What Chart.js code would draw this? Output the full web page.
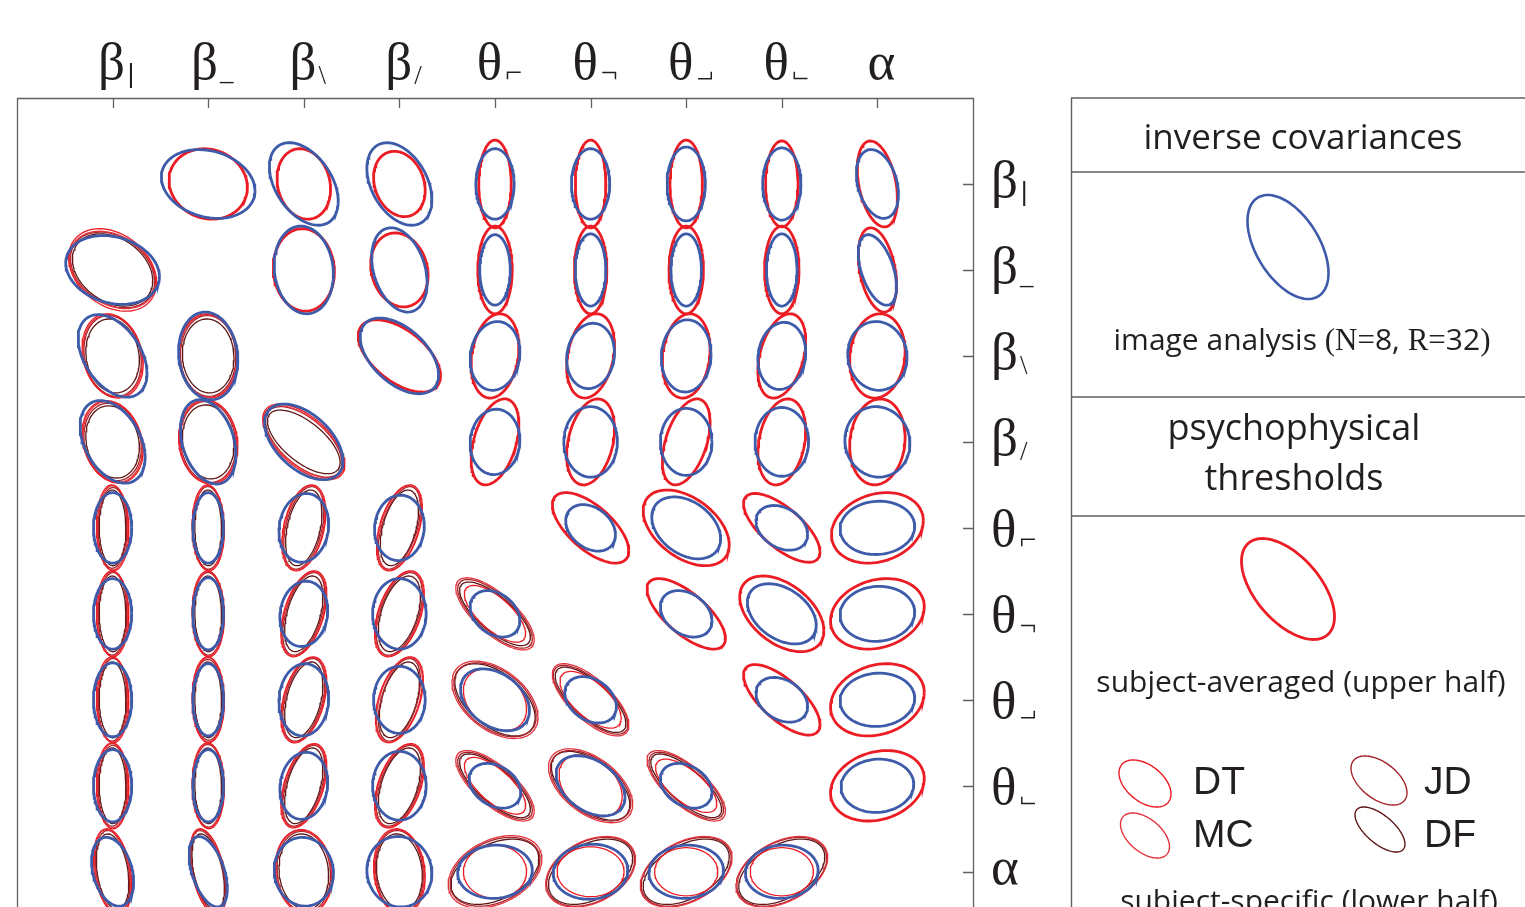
<!DOCTYPE html>
<html>
<head>
<meta charset="utf-8">
<script src="https://cdn.jsdelivr.net/npm/chart.js@4.4.1/dist/chart.umd.min.js"></script>
<style>
  html, body { margin: 0; padding: 0; background: #ffffff; }
  #wrap { width: 1525px; height: 907px; }
</style>
</head>
<body>
<div id="wrap"><canvas id="matrix" width="1525" height="907"></canvas></div>
<script>
// Parameters of the nine image features (row/column order of the matrix).
const varSymbols    = ['β', 'β', 'β', 'β', 'θ', 'θ', 'θ', 'θ', 'α'];
const varSubscripts = ['|', '_', '\\', '/', '┌', '┐', '┘', '└', ''];

// Ellipses, one per variable pair (i < j), upper triangle in row-major order.
// Each entry: [half-width (columns), half-height (rows), correlation/tilt].
const imageAnalysis = [
  [0.49,0.40,0.20],[0.36,0.48,0.42],[0.34,0.48,0.38],[0.20,0.41,0.00],[0.20,0.41,0.00],[0.20,0.43,0.00],[0.20,0.42,0.00],[0.22,0.40,0.30],
  [0.31,0.51,0.10],[0.29,0.49,0.30],[0.16,0.41,0.00],[0.16,0.42,0.00],[0.16,0.42,0.00],[0.16,0.42,0.00],[0.20,0.41,0.48],
  [0.41,0.44,0.50],[0.26,0.40,-0.10],[0.25,0.38,-0.10],[0.26,0.42,-0.05],[0.25,0.39,-0.10],[0.31,0.40,0.05],
  [0.26,0.38,-0.05],[0.28,0.41,0.00],[0.27,0.39,0.00],[0.28,0.40,0.00],[0.34,0.41,0.05],
  [0.26,0.27,0.30],[0.36,0.36,0.35],[0.27,0.26,0.30],[0.39,0.31,-0.05],
  [0.27,0.27,0.30],[0.36,0.35,0.38],[0.39,0.32,-0.05],
  [0.27,0.26,0.30],[0.39,0.31,-0.05],
  [0.38,0.31,-0.05]
];
const subjectAveraged = [
  [0.41,0.41,0.10],[0.28,0.41,0.15],[0.27,0.38,0.20],[0.17,0.51,0.00],[0.16,0.51,0.00],[0.17,0.51,0.00],[0.17,0.50,0.00],[0.21,0.50,0.35],
  [0.32,0.48,0.05],[0.30,0.43,0.15],[0.18,0.51,0.00],[0.17,0.51,0.00],[0.18,0.51,0.00],[0.18,0.51,0.00],[0.20,0.49,0.35],
  [0.43,0.42,0.55],[0.25,0.49,-0.20],[0.25,0.49,-0.25],[0.25,0.49,-0.15],[0.25,0.49,-0.35],[0.29,0.49,-0.10],
  [0.25,0.50,-0.40],[0.25,0.50,-0.30],[0.25,0.50,-0.45],[0.25,0.50,-0.25],[0.29,0.50,-0.10],
  [0.40,0.41,0.65],[0.45,0.44,0.45],[0.40,0.40,0.70],[0.48,0.41,-0.20],
  [0.41,0.41,0.70],[0.44,0.44,0.45],[0.49,0.41,-0.20],
  [0.40,0.41,0.70],[0.49,0.42,-0.20],
  [0.49,0.41,-0.20]
];
const subjectDT = [
  [0.46,0.48,0.30],[0.32,0.49,0.18],[0.32,0.48,0.20],[0.17,0.50,0.05],[0.17,0.50,0.03],[0.17,0.50,0.04],[0.17,0.50,0.03],[0.20,0.50,0.30],
  [0.31,0.49,0.05],[0.31,0.49,0.10],[0.17,0.50,0.05],[0.17,0.50,0.04],[0.17,0.50,0.03],[0.17,0.50,0.04],[0.19,0.50,0.45],
  [0.43,0.44,0.60],[0.23,0.50,-0.35],[0.24,0.50,-0.45],[0.24,0.50,-0.40],[0.24,0.49,-0.45],[0.30,0.49,0.10],
  [0.24,0.50,-0.45],[0.26,0.50,-0.45],[0.25,0.50,-0.45],[0.26,0.49,-0.45],[0.27,0.50,0.12],
  [0.32,0.33,0.70],[0.33,0.36,0.30],[0.32,0.33,0.70],[0.33,0.31,0.00],
  [0.32,0.33,0.65],[0.33,0.36,0.35],[0.35,0.29,0.00],
  [0.32,0.31,0.68],[0.33,0.28,0.00],
  [0.33,0.28,0.00]
];
const subjectMC = [
  [0.45,0.45,0.30],[0.31,0.48,0.15],[0.31,0.47,0.18],[0.16,0.49,0.00],[0.16,0.49,0.00],[0.16,0.49,0.00],[0.16,0.49,0.01],[0.19,0.49,0.35],
  [0.30,0.48,0.05],[0.30,0.48,0.08],[0.16,0.49,0.00],[0.16,0.49,0.00],[0.16,0.49,0.01],[0.16,0.49,0.00],[0.19,0.49,0.42],
  [0.42,0.42,0.62],[0.22,0.49,-0.35],[0.23,0.49,-0.45],[0.23,0.49,-0.40],[0.23,0.48,-0.45],[0.29,0.48,0.12],
  [0.23,0.49,-0.45],[0.25,0.49,-0.45],[0.24,0.49,-0.45],[0.25,0.48,-0.45],[0.26,0.49,0.10],
  [0.41,0.42,0.72],[0.45,0.45,0.45],[0.41,0.41,0.72],[0.49,0.42,-0.35],
  [0.40,0.42,0.70],[0.44,0.43,0.50],[0.47,0.41,-0.35],
  [0.41,0.41,0.72],[0.48,0.41,-0.40],
  [0.48,0.41,-0.40]
];
const subjectJD = [
  [0.44,0.44,0.30],[0.30,0.47,0.15],[0.30,0.45,0.15],[0.15,0.47,-0.03],[0.15,0.48,-0.03],[0.15,0.48,-0.04],[0.15,0.47,-0.03],[0.18,0.48,0.28],
  [0.29,0.47,0.03],[0.29,0.47,0.10],[0.16,0.48,0.03],[0.16,0.48,0.02],[0.16,0.47,0.03],[0.16,0.48,0.02],[0.18,0.48,0.48],
  [0.40,0.41,0.60],[0.21,0.48,-0.40],[0.22,0.48,-0.48],[0.22,0.48,-0.42],[0.22,0.47,-0.48],[0.28,0.47,0.08],
  [0.22,0.48,-0.50],[0.24,0.48,-0.48],[0.22,0.48,-0.48],[0.24,0.47,-0.48],[0.25,0.48,0.10],
  [0.39,0.40,0.73],[0.43,0.43,0.45],[0.39,0.39,0.73],[0.47,0.40,-0.35],
  [0.39,0.40,0.72],[0.42,0.41,0.50],[0.46,0.40,-0.35],
  [0.39,0.39,0.72],[0.47,0.40,-0.40],
  [0.47,0.40,-0.40]
];
const subjectDF = [
  [0.42,0.42,0.30],[0.28,0.43,0.12],[0.28,0.42,0.15],[0.14,0.44,0.02],[0.14,0.44,0.02],[0.14,0.44,0.02],[0.14,0.44,0.02],[0.17,0.44,0.30],
  [0.27,0.43,0.05],[0.27,0.43,0.10],[0.14,0.44,0.02],[0.14,0.44,0.03],[0.14,0.44,0.02],[0.14,0.44,0.03],[0.17,0.44,0.45],
  [0.38,0.37,0.65],[0.19,0.44,-0.38],[0.20,0.44,-0.45],[0.20,0.44,-0.40],[0.20,0.44,-0.45],[0.26,0.44,0.10],
  [0.20,0.44,-0.45],[0.22,0.44,-0.45],[0.21,0.44,-0.45],[0.22,0.44,-0.45],[0.24,0.44,0.12],
  [0.37,0.37,0.74],[0.42,0.42,0.50],[0.37,0.37,0.74],[0.46,0.38,-0.40],
  [0.37,0.38,0.73],[0.41,0.40,0.55],[0.44,0.38,-0.40],
  [0.37,0.37,0.75],[0.45,0.38,-0.45],
  [0.45,0.38,-0.45]
];

const subjects = [
  { name: 'DT', values: subjectDT, color: '#ec1c24' },
  { name: 'MC', values: subjectMC, color: '#e2333b' },
  { name: 'JD', values: subjectJD, color: '#a6222b' },
  { name: 'DF', values: subjectDF, color: '#5e1616' }
];
const BLUE = '#3d5ba9';
const RED = '#ec1c24';
const INK = '#231f20';
const RULE = '#5f6062';

// Outline of an ellipse with bounding half-extents sx, sy and correlation r.
function ellipseOutline(cx, cy, e, steps = 90) {
  const [sx, sy, r] = e;
  const k = Math.sqrt(1 - r * r);
  const pts = [];
  for (let s = 0; s <= steps; s++) {
    const t = (s / steps) * Math.PI * 2;
    pts.push({ x: cx + sx * Math.cos(t), y: cy + sy * (r * Math.cos(t) + k * Math.sin(t)) });
  }
  return pts;
}

function ellipseDataset(cx, cy, e, color, width, order) {
  return {
    data: ellipseOutline(cx, cy, e),
    showLine: true,
    borderColor: color,
    borderWidth: width,
    pointRadius: 0,
    tension: 0,
    fill: false,
    order: order
  };
}

// Build datasets: upper triangle = image analysis + subject average,
// lower triangle = image analysis + each subject.
const datasets = [];
let p = 0;
for (let i = 1; i <= varSymbols.length; i++) {
  for (let j = i + 1; j <= varSymbols.length; j++) {
    // upper cell: row i, column j
    datasets.push(ellipseDataset(j, i, subjectAveraged[p], RED, 2.8, 2));
    datasets.push(ellipseDataset(j, i, imageAnalysis[p], BLUE, 2.8, 0));
    // lower cell: row j, column i
    subjects.forEach(s => datasets.push(ellipseDataset(i, j, s.values[p], s.color, 1.3, 1)));
    datasets.push(ellipseDataset(i, j, imageAnalysis[p], BLUE, 2.8, 0));
    p++;
  }
}

function ellipsePath(ctx, cx, cy, sx, sy, r) {
  const pts = ellipseOutline(cx, cy, [sx, sy, r], 120);
  ctx.beginPath();
  pts.forEach((q, n) => n ? ctx.lineTo(q.x, q.y) : ctx.moveTo(q.x, q.y));
  ctx.closePath();
}

const SERIF = '"Liberation Serif", "Times New Roman", serif';
const SANS = '"Open Sans", "Noto Sans", sans-serif';

// Corner subscripts are set with the (reversed) not-sign glyph, turned as needed.
const cornerGlyphs = { '┌': ['⌐', 0], '┐': ['¬', 0], '┘': ['⌐', Math.PI], '└': ['¬', Math.PI] };

function drawVarLabel(ctx, k, x, y, mode) {
  const main = varSymbols[k];
  const sub = varSubscripts[k];
  const mainFont = `53px ${SERIF}`;
  ctx.font = mainFont;
  const m = ctx.measureText(main);
  const corner = cornerGlyphs[sub];
  const subFont = corner ? `30px ${SERIF}` : (sub === '|' ? '25px "DejaVu Sans"' : `27px ${SERIF}`);
  const glyph = corner ? corner[0] : sub;
  ctx.font = subFont;
  const sm = sub ? ctx.measureText(glyph) : null;
  const subW = sm ? (corner ? sm.actualBoundingBoxLeft + sm.actualBoundingBoxRight : sm.width) : 0;
  const gap = sub ? (corner ? 4 : 2) : 0;
  let left, base;
  if (mode === 'top') {
    left = x + 4 - (m.width + gap + subW) / 2;
    base = y;
  } else {
    left = x;
    base = y + (m.actualBoundingBoxAscent - m.actualBoundingBoxDescent) / 2;
  }
  ctx.fillStyle = INK;
  ctx.textAlign = 'left';
  ctx.textBaseline = 'alphabetic';
  ctx.font = mainFont;
  ctx.fillText(main, left, base);
  if (!sub) return;
  ctx.font = subFont;
  const sx = left + m.width + gap;
  if (corner) {
    const bl = -sm.actualBoundingBoxLeft, br = sm.actualBoundingBoxRight;
    const bt = -sm.actualBoundingBoxAscent, bb = sm.actualBoundingBoxDescent;
    const w = br - bl, h = bb - bt;
    const cx = sx + w / 2, cy = base + 1 - h / 2;
    ctx.save();
    ctx.translate(cx, cy);
    ctx.rotate(corner[1]);
    ctx.fillText(glyph, -(bl + br) / 2, -(bt + bb) / 2);
    ctx.restore();
  } else {
    let sb = base + 5;
    if (sub === '_') sb = base + 1;
    if (sub === '|') sb = base + 3;
    ctx.fillText(glyph, sx, sb);
  }
}

const matrixFrame = {
  id: 'matrixFrame',
  afterDatasetsDraw(chart) {
    const { ctx, chartArea: a, scales: { x, y } } = chart;
    ctx.save();
    ctx.strokeStyle = RULE;
    ctx.lineWidth = 1.3;
    ctx.beginPath();
    ctx.moveTo(a.left + 0.5, a.bottom + 5);
    ctx.lineTo(a.left + 0.5, a.top + 0.5);
    ctx.lineTo(a.right + 0.5, a.top + 0.5);
    ctx.lineTo(a.right + 0.5, a.bottom + 5);
    varSymbols.forEach((_, k) => {
      const px = Math.round(x.getPixelForValue(k + 1)) + 0.5;
      ctx.moveTo(px, a.top);
      ctx.lineTo(px, a.top + 10);
      const py = Math.round(y.getPixelForValue(k + 1)) + 0.5;
      ctx.moveTo(a.right - 10, py);
      ctx.lineTo(a.right, py);
    });
    ctx.stroke();
    varSymbols.forEach((_, k) => {
      drawVarLabel(ctx, k, x.getPixelForValue(k + 1), 79, 'top');
      drawVarLabel(ctx, k, a.right + 18, y.getPixelForValue(k + 1), 'right');
    });
    ctx.restore();
  }
};

function centeredRuns(ctx, runs, cx, base) {
  let total = 0;
  runs.forEach(r => { ctx.font = r[1]; total += ctx.measureText(r[0]).width; });
  let xx = cx - total / 2;
  ctx.textAlign = 'left';
  runs.forEach(r => { ctx.font = r[1]; ctx.fillText(r[0], xx, base); xx += ctx.measureText(r[0]).width; });
}

const keyPanel = {
  id: 'keyPanel',
  afterDraw(chart) {
    const ctx = chart.ctx;
    const L = 1071.5, R = 1525;
    ctx.save();
    ctx.strokeStyle = RULE;
    ctx.lineWidth = 1.4;
    ctx.beginPath();
    ctx.moveTo(L, 907); ctx.lineTo(L, 98); ctx.lineTo(R, 98);
    [172, 397, 516].forEach(yy => { ctx.moveTo(L, yy); ctx.lineTo(R, yy); });
    ctx.stroke();

    ctx.fillStyle = INK;
    ctx.textBaseline = 'alphabetic';
    ctx.textAlign = 'center';
    ctx.font = `35px ${SANS}`;
    ctx.fillText('inverse covariances', 1303, 149);

    ctx.strokeStyle = BLUE;
    ctx.lineWidth = 2.6;
    ellipsePath(ctx, 1288, 247, 40.5, 52, 0.5);
    ctx.stroke();

    const s30 = `30px ${SANS}`, f31 = `31px ${SERIF}`;
    centeredRuns(ctx, [['image analysis ', s30], ['(N=', f31], ['8, ', s30], ['R=', f31], ['32', s30], [')', f31]], 1302, 350);

    ctx.textAlign = 'center';
    ctx.font = `36px ${SANS}`;
    ctx.fillText('psychophysical', 1294, 440);
    ctx.fillText('thresholds', 1294, 490);

    ctx.strokeStyle = RED;
    ctx.lineWidth = 2.8;
    ellipsePath(ctx, 1288, 589, 46.5, 50.5, 0.55);
    ctx.stroke();

    ctx.font = `30px ${SANS}`;
    ctx.fillText('subject-averaged (upper half)', 1301, 692);

    const keyShapes = [
      [1145, 783.5, 26, 23.5, 0.45, 1193, 794],
      [1145, 835.5, 24.5, 22.5, 0.5, 1193, 847],
      [1379, 780.5, 28, 24.5, 0.5, 1424, 794],
      [1380, 829.5, 25, 22.5, 0.65, 1424, 847]
    ];
    subjects.forEach((s, n) => {
      const [cx, cy, sx, sy, r, tx, ty] = keyShapes[n];
      ctx.strokeStyle = s.color;
      ctx.lineWidth = 1.4;
      ellipsePath(ctx, cx, cy, sx, sy, r);
      ctx.stroke();
      ctx.textAlign = 'left';
      ctx.font = '39px "Liberation Sans", Arial, sans-serif';
      ctx.fillText(s.name, tx, ty);
    });

    ctx.textAlign = 'center';
    ctx.font = `30px ${SANS}`;
    ctx.fillText('subject-specific (lower half)', 1309, 911);
    ctx.restore();
  }
};

new Chart(document.getElementById('matrix'), {
  type: 'scatter',
  data: { datasets },
  options: {
    responsive: false,
    animation: false,
    devicePixelRatio: 1,
    layout: { padding: { left: 17, top: 98, right: 552, bottom: 0 } },
    scales: {
      x: { type: 'linear', min: 0, max: 10, display: false },
      y: { type: 'linear', min: 0, max: 9.41, reverse: true, display: false }
    },
    plugins: { legend: { display: false }, tooltip: { enabled: false } },
    events: []
  },
  plugins: [matrixFrame, keyPanel]
});
</script>
</body>
</html>
